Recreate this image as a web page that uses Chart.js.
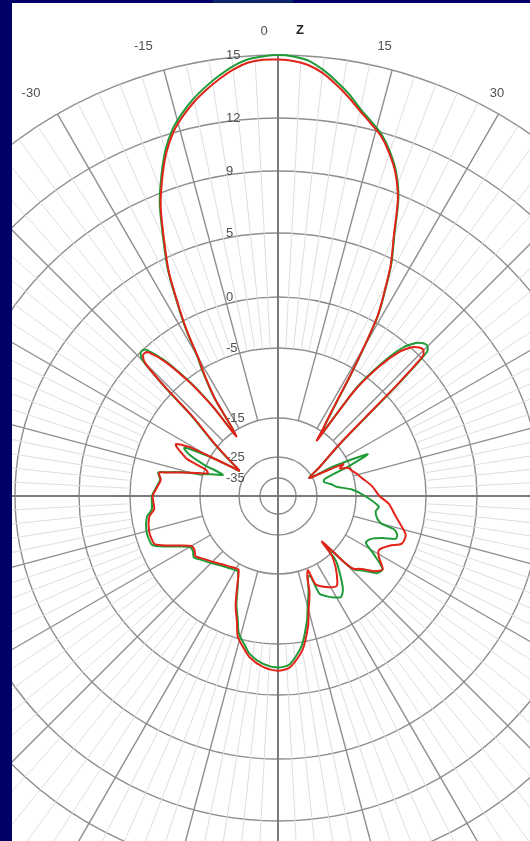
<!DOCTYPE html>
<html>
<head>
<meta charset="utf-8">
<title>Radiation pattern</title>
<script src="https://cdn.jsdelivr.net/npm/chart.js@4.4.1/dist/chart.umd.min.js"></script>
<style>
  html, body { margin: 0; padding: 0; width: 530px; height: 841px; overflow: hidden; background: #000068; }
  #band { position: absolute; left: 213px; top: 0; width: 80px; height: 3px; background: #0b2466; }
  #frame { position: absolute; left: 12px; top: 3px; width: 518px; height: 838px; background: #ffffff; overflow: hidden; }
  #pattern { position: absolute; left: -235px; top: -8px; }
</style>
</head>
<body>
<div id="band"></div>
<div id="frame"><canvas id="pattern" width="1002" height="1002"></canvas></div>
<script>
// Angular categories: one per degree, clockwise from the Z axis.
const angleCategories = Array.from({ length: 360 }, (_, i) => String(i));

// Gain rings (dBi) and the angle captions shown above the outer ring.
const ringValues = [-35, -25, -15, -5, 0, 5, 9, 12, 15];
const angleLabelValues = [-30, -15, 0, 15, 30];

// Red trace: angle (deg, clockwise from Z) and gain (dBi).
const redAngles = [0, 2, 4, 6, 8, 10, 12, 14, 16, 18, 20, 22, 24, 26, 28, 29, 30, 31, 32, 33, 34, 35,
  36, 38, 40, 42, 43, 44, 45, 46, 47, 48, 50, 55, 60,
  62, 64, 66, 68, 71, 74, 78, 84, 90, 94, 100, 104, 107, 111, 114, 118, 121, 125, 128, 130, 132, 134, 135, 136, 138, 141, 145, 147, 150, 154, 157, 158,
  160, 162, 165, 167, 171, 176, 180,
  -175, -170, -167, -164, -162, -159, -156, -152, -150, -145, -140, -136, -130, -126, -123, -120, -116, -113, -111, -105,
  -99, -96, -90, -86, -82, -79, -78, -76, -74, -72, -70, -68, -66, -64, -63, -62, -61, -60, -58, -57, -56, -53, -50,
  -48, -47, -46, -45, -44, -43, -42, -40, -38, -37, -36, -35,
  -34, -33, -32, -31, -30, -29, -28, -26, -24, -22, -20, -18, -16, -14, -12, -10, -8, -6, -4, -2];
const redGain = [14.8, 14.75, 14.6, 14.3, 13.85, 13.35, 12.8, 12.3, 11.8, 11.05, 10.1, 8.7, 6.5, 4.6, 2.0, 0.5, -2.5, -6.0, -10.0, -12.8, -14.8, -17.0,
  -7.0, -3.2, -1.0, 0.1, 0.4, 0.6, 0.6, 0.2, -3.5, -8.5, -14.8, -21.0, -26.0,
  -22.0, -16.0, -17.0, -15.5, -15.0, -14.3, -13.5, -12.0, -10.9, -9.5, -8.3, -7.3, -6.6, -6.7, -8.0, -9.0, -8.6, -7.3, -8.0, -9.0, -9.8, -10.4, -12.0, -18.0, -14.5, -12.5, -10.6, -10.0, -10.3, -11.0, -11.8, -14.6,
  -13.5, -10.8, -8.5, -6.6, -4.1, -2.5, -2.2,
  -2.5, -3.3, -4.2, -5.2, -6.7, -8.5, -11.0, -13.9, -13.9, -13.5, -13.0, -12.4, -11.5, -10.8, -11.2, -11.1, -9.2, -7.5, -6.7, -6.6,
  -7.0, -7.7, -7.6, -8.1, -8.5, -8.1, -9.2, -11.6, -14.0, -15.8, -15.2, -11.5, -10.3, -9.2, -9.0, -9.8, -11.0, -14.5, -20.0, -22.5, -22.0, -18.0, -13.5,
  -10.5, -8.5, -4.0, -1.0, -0.4, -0.3, -0.5, -2.2, -5.2, -7.2, -10.0, -16.0,
  -14.3, -9.0, -7.0, -5.3, -3.8, -1.2, 0.7, 4.0, 6.2, 8.3, 9.8, 11.1, 12.05, 12.7, 13.25, 13.7, 14.1, 14.45, 14.7, 14.8];

// Green trace: angle (deg, clockwise from Z) and gain (dBi).
const greenAngles = [0, 2, 4, 6, 8, 10, 12, 14, 16, 18, 20, 22, 24, 26, 28, 29, 30, 31, 32, 33, 34, 35,
  36, 38, 40, 42, 43, 44, 45, 46, 47, 48, 50, 55, 60,
  62, 65, 67, 70, 73, 78, 81, 85, 90, 96, 99, 103, 105, 106, 108, 110, 112, 115, 118, 121, 125, 128, 130, 132, 134, 135, 136, 138, 141, 145, 148, 151, 154, 157, 158,
  160, 162, 165, 167, 171, 176, 180,
  -175, -170, -167, -164, -162, -159, -156, -152, -150, -145, -140, -136, -130, -126, -123, -120, -116, -113, -111, -105,
  -99, -96, -90, -86, -82, -79, -78, -76, -74, -72, -69, -67, -65, -63, -62, -60, -58, -57, -56, -53, -50,
  -48, -47, -46, -45, -44, -43, -42, -40, -38, -37, -36, -35,
  -34, -33, -32, -31, -30, -29, -28, -26, -24, -22, -20, -18, -16, -14, -12, -10, -8, -6, -4, -2];
const greenGain = [15.0, 14.95, 14.8, 14.45, 14.0, 13.5, 12.9, 12.4, 11.9, 11.15, 10.2, 8.8, 6.6, 4.7, 2.1, 0.6, -2.3, -5.8, -9.5, -12.5, -14.5, -16.5,
  -6.5, -2.8, -0.5, 0.6, 0.9, 1.1, 1.1, 0.7, -3.0, -8.0, -14.5, -21.0, -26.0,
  -18.0, -11.3, -15.0, -21.5, -22.0, -20.0, -19.0, -15.7, -13.3, -10.9, -11.3, -10.8, -10.0, -8.2, -7.6, -7.6, -9.3, -10.8, -11.2, -9.5, -7.3, -7.6, -8.6, -9.5, -10.2, -12.0, -17.5, -13.5, -11.5, -9.2, -8.4, -8.8, -9.4, -10.2, -13.5,
  -13.3, -11.3, -9.0, -7.2, -4.6, -2.8, -2.5,
  -2.8, -3.6, -4.6, -5.6, -7.0, -8.8, -11.3, -13.6, -13.6, -13.2, -12.7, -12.1, -11.2, -10.5, -10.9, -10.8, -8.9, -7.2, -6.4, -6.3,
  -6.7, -7.4, -7.5, -8.0, -8.4, -8.0, -9.0, -11.4, -14.5, -16.5, -19.0, -14.5, -11.5, -10.3, -11.0, -15.0, -20.0, -22.5, -22.0, -17.7, -13.2,
  -10.2, -8.2, -3.7, -0.7, -0.1, 0.0, -0.2, -1.9, -4.9, -6.9, -9.7, -15.5,
  -14.0, -8.7, -6.7, -5.0, -3.5, -0.9, 0.9, 4.15, 6.35, 8.45, 9.95, 11.25, 12.2, 12.85, 13.4, 13.85, 14.25, 14.6, 14.85, 14.95];

// Compressed dB radial axis: every labelled ring has a fixed share of the outer radius,
// with logarithmic spacing between neighbouring rings.
const RING_FRACTION = [[-35, 18 / 441], [-25, 39 / 441], [-15, 78 / 441], [-5, 148 / 441], [0, 199 / 441],
  [5, 263 / 441], [9, 325 / 441], [12, 378 / 441], [15, 1]];

function dbToFraction(db) {
  const t = RING_FRACTION;
  let i = 0;
  if (db >= t[t.length - 1][0]) i = t.length - 2;
  else if (db > t[0][0]) { while (db > t[i + 1][0]) i++; }
  const [v0, f0] = t[i];
  const [v1, f1] = t[i + 1];
  return f0 * Math.pow(f1 / f0, (db - v0) / (v1 - v0));
}

class CompressedDbScale extends Chart.RadialLinearScale {
  getDistanceFromCenterForValue(value) {
    if (value === null || value === undefined || isNaN(value)) return NaN;
    return this.drawingArea * dbToFraction(value);
  }
}
CompressedDbScale.id = 'compressedDb';
Chart.register(CompressedDbScale);

function toSeries(angles, gains) {
  const out = new Array(angleCategories.length).fill(null);
  angles.forEach((a, k) => { out[((a % 360) + 360) % 360] = gains[k]; });
  return out;
}

// Spokes, axes and captions drawn on top of the rings, under the traces.
const polarDecor = {
  id: 'polarDecor',
  beforeDatasetsDraw(chart) {
    const s = chart.scales.r;
    const ctx = chart.ctx;
    const outer = s.getDistanceFromCenterForValue(15);
    const majorStart = s.getDistanceFromCenterForValue(-15);
    const minorStart = s.getDistanceFromCenterForValue(-5);
    const spoke = (a, r0, r1, color, width) => {
      const p0 = s.getPointPosition(a, r0);
      const p1 = s.getPointPosition(a, r1);
      ctx.strokeStyle = color;
      ctx.lineWidth = width;
      ctx.beginPath();
      ctx.moveTo(p0.x, p0.y);
      ctx.lineTo(p1.x, p1.y);
      ctx.stroke();
    };
    ctx.save();
    for (let a = 0; a < 360; a += 3) if (a % 15) spoke(a, minorStart, outer, '#dedede', 1);
    for (let a = 0; a < 360; a += 15) if (a % 90) spoke(a, majorStart, outer, '#8e8e8e', 1.4);
    for (let a = 0; a < 360; a += 90) spoke(a, 0, outer, '#7a7a7a', 2);

    ctx.font = '13px "Liberation Sans", Arial, sans-serif';
    ctx.fillStyle = '#505050';
    ctx.textAlign = 'left';
    ctx.textBaseline = 'middle';
    ringValues.forEach(v => {
      ctx.fillText(String(v), s.xCenter - 52, s.yCenter - s.getDistanceFromCenterForValue(v));
    });

    ctx.textAlign = 'center';
    angleLabelValues.forEach(a => {
      const p = s.getPointPosition((a + 360) % 360, outer + 25);
      ctx.fillText(String(a), p.x - 14, p.y + 1);
    });
    ctx.font = 'bold 13px "Liberation Sans", Arial, sans-serif';
    ctx.fillStyle = '#222222';
    ctx.fillText('Z', s.xCenter + 22, s.yCenter - outer - 25);
    ctx.restore();
  }
};

new Chart(document.getElementById('pattern'), {
  type: 'radar',
  data: {
    labels: angleCategories,
    datasets: [
      { label: 'Pattern B', data: toSeries(redAngles, redGain), borderColor: '#e2231a', borderWidth: 2,
        pointRadius: 0, fill: false, spanGaps: true, tension: 0.25 },
      { label: 'Pattern A', data: toSeries(greenAngles, greenGain), borderColor: '#1f9b38', borderWidth: 2,
        pointRadius: 0, fill: false, spanGaps: true, tension: 0.25 }
    ]
  },
  options: {
    responsive: false,
    animation: false,
    layout: { padding: 60 },
    plugins: { legend: { display: false }, tooltip: { enabled: false } },
    scales: {
      r: {
        type: 'compressedDb',
        min: -45,
        max: 15,
        startAngle: 0,
        afterBuildTicks: (scale) => { scale.ticks = ringValues.map(v => ({ value: v })); },
        ticks: { display: false },
        pointLabels: { display: false },
        angleLines: { display: false },
        grid: { circular: true, color: '#8e8e8e', lineWidth: 1.4 }
      }
    }
  },
  plugins: [polarDecor]
});
</script>
</body>
</html>
